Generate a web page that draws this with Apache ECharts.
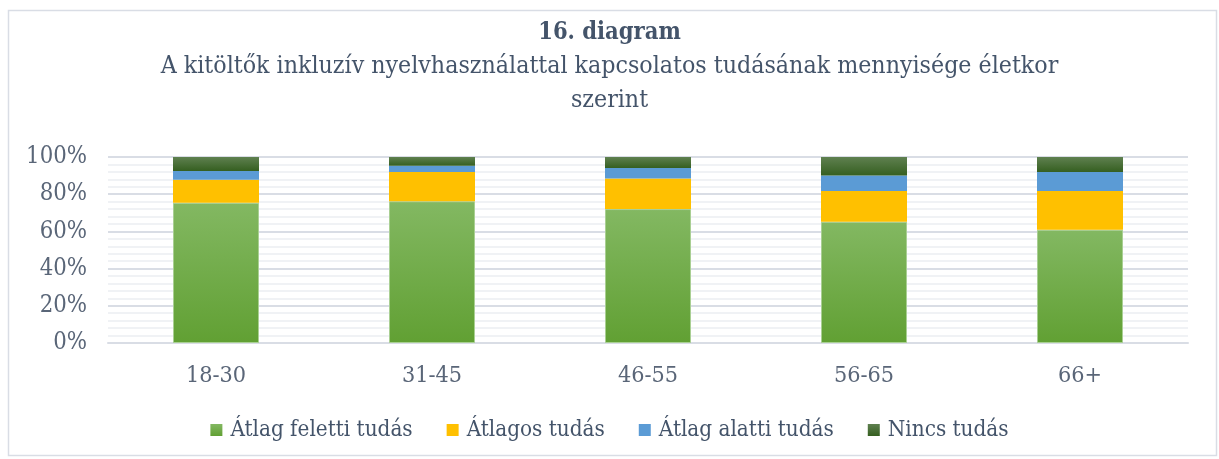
<!DOCTYPE html>
<html>
<head>
<meta charset="utf-8">
<script src="https://cdn.jsdelivr.net/npm/echarts@6/dist/echarts.min.js"></script>
<style>
  html, body { margin: 0; padding: 0; background: #fff; }
  #chart { width: 1219px; height: 459px; }
</style>
</head>
<body>
<div id="chart"></div>
<script>
  // korcsoportok
  const categories = ['18-30', '31-45', '46-55', '56-65', '66+'];
  // százalékos megoszlás (leolvasva)
  const atlagFeletti = [75.4, 76.2, 72.0, 65.2, 60.9];
  const atlagos = [12.4, 15.7, 16.5, 16.5, 20.8];
  const atlagAlatti = [4.7, 3.4, 5.6, 8.3, 10.2];
  const nincs = [7.5, 4.7, 5.9, 10.0, 8.1];
  const seriesNames = ['Átlag feletti tudás', 'Átlagos tudás', 'Átlag alatti tudás', 'Nincs tudás'];

  const FONT = 'DejaVu Serif Condensed';
  const TXT = '#44546a';
  const AXT = '#5a6678';

  function grad(top, bottom) {
    return new echarts.graphic.LinearGradient(0, 0, 0, 1, [
      { offset: 0, color: top },
      { offset: 1, color: bottom }
    ]);
  }

  const chart = echarts.init(document.getElementById('chart'));

  chart.setOption({
    animation: false,
    textStyle: { fontFamily: FONT },
    title: [{
      text: '16. diagram',
      left: 'center',
      top: 16,
      textStyle: { fontFamily: FONT, fontSize: 23.5, fontWeight: 'bold', color: TXT }
    }, {
      text: 'A kitöltők inkluzív nyelvhasználattal kapcsolatos tudásának mennyisége életkor',
      left: 'center',
      top: 49,
      textStyle: { fontFamily: FONT, fontSize: 24.7, fontWeight: 'normal', color: TXT }
    }, {
      text: 'szerint',
      left: 'center',
      top: 83,
      textStyle: { fontFamily: FONT, fontSize: 24.7, fontWeight: 'normal', color: TXT }
    }],
    graphic: [{
      type: 'rect',
      shape: { x: 8.5, y: 10.5, width: 1208, height: 445 },
      style: { fill: 'none', stroke: '#d9dde5', lineWidth: 1.5 },
      silent: true
    }],
    legend: {
      data: seriesNames,
      top: 414,
      left: 'center',
      itemWidth: 12,
      itemHeight: 12,
      itemGap: 34,
      icon: 'rect',
      itemStyle: { borderWidth: 0 },
      textStyle: { fontFamily: FONT, fontSize: 22.3, color: TXT, padding: [0, 0, 0, 3] }
    },
    grid: { left: 108, right: 31, top: 157, bottom: 116 },
    xAxis: {
      type: 'category',
      data: categories,
      axisLine: { show: true, lineStyle: { color: '#d9dde5', width: 2 } },
      axisTick: { show: false },
      axisLabel: { fontFamily: FONT, fontSize: 23.2, color: AXT, margin: 21 }
    },
    yAxis: {
      type: 'value',
      min: 0,
      max: 100,
      interval: 20,
      axisLine: { show: false },
      axisTick: { show: false },
      axisLabel: { formatter: '{value}%', fontFamily: FONT, fontSize: 23.7, color: AXT, margin: 21 },
      splitLine: { lineStyle: { color: '#d9dde5', width: 2 } },
      minorTick: { show: false, splitNumber: 5 },
      minorSplitLine: { show: true, lineStyle: { color: '#f0f2f5', width: 2 } }
    },
    series: [{
      name: seriesNames[0],
      type: 'bar',
      stack: 'total',
      barWidth: 86,
      data: atlagFeletti,
      itemStyle: { color: grad('#83b862', '#61a033'), borderColor: '#a9cf93', borderWidth: 1 }
    }, {
      name: seriesNames[1],
      type: 'bar',
      stack: 'total',
      data: atlagos,
      itemStyle: { color: '#ffc000' }
    }, {
      name: seriesNames[2],
      type: 'bar',
      stack: 'total',
      data: atlagAlatti,
      itemStyle: { color: '#5b9bd5' }
    }, {
      name: seriesNames[3],
      type: 'bar',
      stack: 'total',
      data: nincs,
      itemStyle: { color: grad('#5f8050', '#355f20') }
    }]
  });
</script>
</body>
</html>
